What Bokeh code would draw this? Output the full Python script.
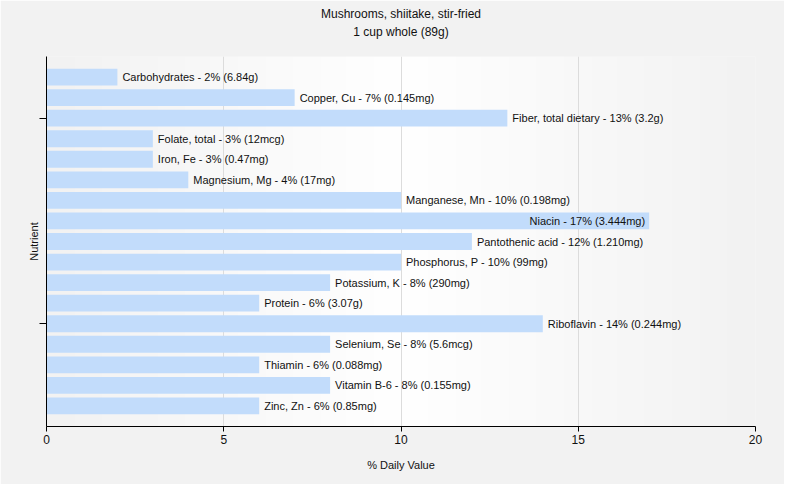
import numpy as np
from bokeh.plotting import figure
from bokeh.models import Range1d, FixedTicker, Title, LinearAxis, ColumnDataSource
from bokeh.core.properties import value
from bokeh.embed import file_html
from bokeh.resources import INLINE

nutrients = ["Carbohydrates", "Copper, Cu", "Fiber, total dietary", "Folate, total", "Iron, Fe",
             "Magnesium, Mg", "Manganese, Mn", "Niacin", "Pantothenic acid", "Phosphorus, P",
             "Potassium, K", "Protein", "Riboflavin", "Selenium, Se", "Thiamin", "Vitamin B-6", "Zinc, Zn"]
daily_values = [2, 7, 13, 3, 3, 4, 10, 17, 12, 10, 8, 6, 14, 8, 6, 8, 6]
amounts = ["6.84g", "0.145mg", "3.2g", "12mcg", "0.47mg", "17mg", "0.198mg", "3.444mg", "1.210mg",
           "99mg", "290mg", "3.07g", "0.244mg", "5.6mcg", "0.088mg", "0.155mg", "0.85mg"]
x_ticks = [0, 5, 10, 15, 20]
title_main = "Mushrooms, shiitake, stir-fried"
title_sub = "1 cup whole (89g)"

FONT = "Liberation Sans"
BG = "#f2f2f2"

idx = list(range(len(nutrients)))
labels = [f"{n} - {v}% ({a})" for n, v, a in zip(nutrients, daily_values, amounts)]
inside = [v >= 17 for v in daily_values]

p = figure(width=784, height=484, output_backend="svg", toolbar_location=None,
           x_range=Range1d(0, 20), y_range=Range1d(17, -1),
           min_border_left=46, min_border_right=29, min_border_top=56, min_border_bottom=58)
p.background_fill_color = BG
p.border_fill_color = BG
p.outline_line_color = None

# plot-area horizontal gradient (grey - white - grey)
n = 256
t = np.linspace(0, 1, n)
lvl = 242 + (255 - 242) * (1 - np.abs(t - 0.5) * 2)
img = np.zeros((1, n), dtype=np.uint32)
view = img.view(dtype=np.uint8).reshape((1, n, 4))
view[0, :, 0] = lvl.astype(np.uint8)
view[0, :, 1] = lvl.astype(np.uint8)
view[0, :, 2] = lvl.astype(np.uint8)
view[0, :, 3] = 255
p.image_rgba(image=[img], x=0, y=-1, dw=20, dh=18, level="image")

src = ColumnDataSource(dict(y=idx, v=daily_values, label=labels))
p.hbar(y="y", right="v", left=0, height=0.82, source=src, color="#c2dcfb", line_color=None)

out_src = ColumnDataSource(dict(
    y=[i for i, f in zip(idx, inside) if not f],
    v=[v for v, f in zip(daily_values, inside) if not f],
    label=[l for l, f in zip(labels, inside) if not f]))
in_src = ColumnDataSource(dict(
    y=[i for i, f in zip(idx, inside) if f],
    v=[v for v, f in zip(daily_values, inside) if f],
    label=[l for l, f in zip(labels, inside) if f]))

p.text(x="v", y="y", text="label", source=out_src, x_offset=5, text_baseline="middle",
       text_align="left", text_font=value(FONT), text_font_size="11px", text_color="#111111")
p.text(x="v", y="y", text="label", source=in_src, x_offset=-4, text_baseline="middle",
       text_align="right", text_font=value(FONT), text_font_size="11px", text_color="#111111")

# grid
p.ygrid.visible = False
p.xgrid.ticker = FixedTicker(ticks=x_ticks)
p.xgrid.grid_line_color = "#dcdcdc"
p.xgrid.grid_line_width = 1

# x axis
p.xaxis.ticker = FixedTicker(ticks=x_ticks)
p.xaxis.axis_label = "% Daily Value"
p.xaxis.axis_label_text_font = FONT
p.xaxis.axis_label_text_font_size = "11px"
p.xaxis.axis_label_text_font_style = "normal"
p.xaxis.axis_label_text_color = "#111111"
p.xaxis.axis_label_standoff = 12
p.xaxis.major_label_text_font = FONT
p.xaxis.major_label_text_font_size = "12px"
p.xaxis.major_label_text_color = "#111111"
p.xaxis.major_label_standoff = 3
p.xaxis.major_tick_out = 5
p.xaxis.major_tick_in = 0
p.xaxis.minor_tick_out = 0
p.xaxis.minor_tick_in = 0
p.xaxis.axis_line_color = "#000000"
p.xaxis.major_tick_line_color = "#000000"

# y axis
p.yaxis.ticker = FixedTicker(ticks=[2, 12])
p.yaxis.major_label_overrides = {2: "", 12: ""}
p.yaxis.axis_label = "Nutrient"
p.yaxis.axis_label_text_font = FONT
p.yaxis.axis_label_text_font_size = "11px"
p.yaxis.axis_label_text_font_style = "normal"
p.yaxis.axis_label_text_color = "#111111"
p.yaxis.axis_label_standoff = 0
p.yaxis.major_label_standoff = 0
p.yaxis.major_tick_out = 7
p.yaxis.major_tick_in = 0
p.yaxis.minor_tick_out = 0
p.yaxis.minor_tick_in = 0
p.yaxis.axis_line_color = "#000000"
p.yaxis.major_tick_line_color = "#000000"

# invisible spacer between the titles and the plot area
spacer = LinearAxis(ticker=FixedTicker(ticks=[10]), axis_line_color=None,
                    major_tick_line_color=None, minor_tick_line_color=None,
                    major_tick_out=16, major_tick_in=0, minor_tick_out=0, minor_tick_in=0,
                    major_label_standoff=0, major_label_overrides={10: ""},
                    major_label_text_font_size="1px")
p.add_layout(spacer, "above")

p.title = Title(text=title_main, align="center", text_font=FONT,
                text_font_size="12px", text_font_style="normal", text_color="#111111", standoff=0)
p.add_layout(Title(text=title_sub, align="center", text_font=FONT, text_font_size="12px",
                   text_font_style="normal", text_color="#111111", standoff=4), "above")

open("out.html", "w").write(file_html(p, INLINE))
